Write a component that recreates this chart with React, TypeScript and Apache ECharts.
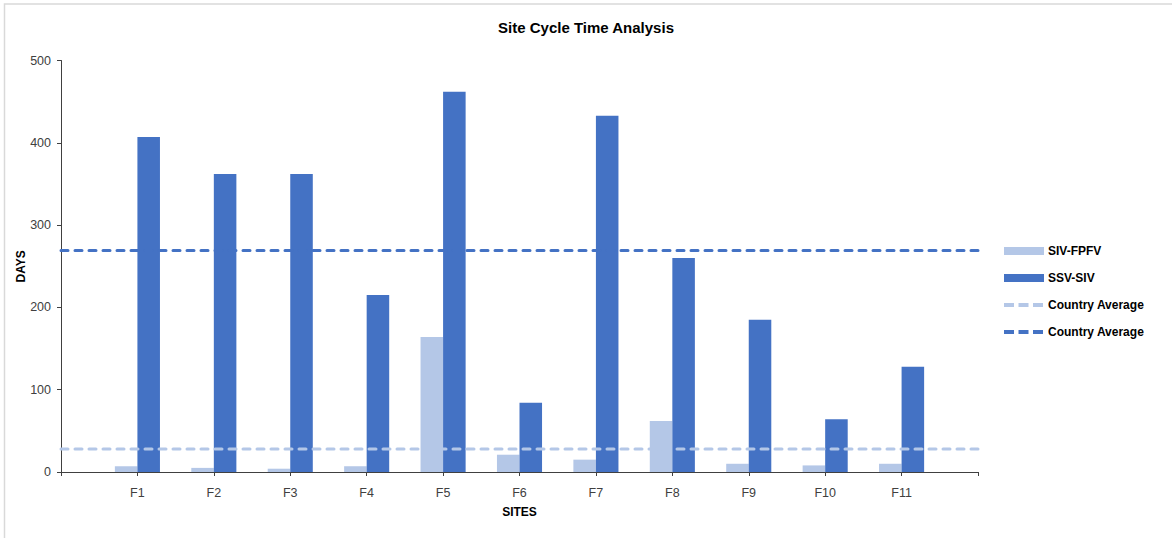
import React, { useEffect, useRef } from "react";
import * as echarts from "echarts";

const categories = ["", "F1", "F2", "F3", "F4", "F5", "F6", "F7", "F8", "F9", "F10", "F11", ""];
const sivFpfv = [null, 7, 5, 4, 7, 164, 21, 15, 62, 10, 8, 10, null];
const ssvSiv = [null, 407, 362, 362, 215, 462, 84, 433, 260, 185, 64, 128, null];
const avgSivFpfv = 28;
const avgSsvSiv = 269;
const yTicks = { min: 0, max: 500, interval: 100 };

const FONT = "'Liberation Sans', Arial, sans-serif";
const LIGHT = "#B4C7E7";
const DARK = "#4472C4";

export default function App() {
  const ref = useRef<HTMLDivElement>(null);
  useEffect(() => {
    document.body.style.margin = "0";
    const chart = echarts.init(ref.current!, null, { renderer: "svg" });
    chart.setOption({
      animation: false,
      backgroundColor: "#fff",
      textStyle: { fontFamily: FONT },
      title: {
        text: "Site Cycle Time Analysis",
        left: "center",
        top: 15,
        textStyle: { fontFamily: FONT, fontSize: 15, fontWeight: "bold", color: "#000" },
      },
      graphic: [
        {
          type: "rect",
          shape: { x: 4.5, y: 4, width: 1200, height: 600 },
          style: { fill: "none", stroke: "#d9d9d9", lineWidth: 1.5 },
          silent: true,
        },
      ],
      grid: { left: 61, right: 194, top: 60.5, bottom: 66, containLabel: false },
      legend: {
        orient: "vertical",
        left: 1002,
        top: 245,
        padding: 0,
        itemWidth: 40,
        itemHeight: 8,
        itemGap: 15,
        textStyle: { fontFamily: FONT, fontSize: 12, fontWeight: "bold", color: "#000", padding: [0, 0, 0, -1] },
        data: [
          { name: "SIV-FPFV", icon: "rect" },
          { name: "SSV-SIV", icon: "rect" },
          { name: "Country Average", itemStyle: { opacity: 0 }, lineStyle: { width: 4, type: [10, 4.5], cap: "butt" } },
          { name: "Country Average ", itemStyle: { opacity: 0 }, lineStyle: { width: 4, type: [10, 4.5], cap: "butt" } },
        ],
      },
      xAxis: {
        type: "category",
        data: categories,
        boundaryGap: false,
        name: "SITES",
        nameLocation: "middle",
        nameGap: 34,
        nameTextStyle: { fontFamily: FONT, fontSize: 12, fontWeight: "bold", color: "#000" },
        axisLine: { lineStyle: { color: "#404040", width: 1 } },
        axisTick: { show: true, alignWithLabel: true, length: 4, lineStyle: { color: "#404040" } },
        axisLabel: { fontFamily: FONT, fontSize: 12.5, color: "#404040", margin: 14, interval: 0 },
        splitLine: { show: false },
      },
      yAxis: {
        type: "value",
        min: yTicks.min,
        max: yTicks.max,
        interval: yTicks.interval,
        name: "DAYS",
        nameLocation: "middle",
        nameGap: 34,
        nameRotate: 90,
        nameMoveOverlap: false,
        nameTextStyle: { fontFamily: FONT, fontSize: 12, fontWeight: "bold", color: "#000" },
        axisLine: { show: true, lineStyle: { color: "#404040", width: 1 } },
        axisTick: { show: true, length: 4, inside: false, lineStyle: { color: "#404040" } },
        axisLabel: { fontFamily: FONT, fontSize: 12.5, color: "#404040", margin: 10 },
        splitLine: { show: false },
      },
      series: [
        {
          name: "SIV-FPFV",
          type: "bar",
          data: sivFpfv,
          itemStyle: { color: LIGHT },
          barGap: "0%",
          barCategoryGap: "41%",
        },
        {
          name: "SSV-SIV",
          type: "bar",
          data: ssvSiv,
          itemStyle: { color: DARK },
          barGap: "0%",
          barCategoryGap: "41%",
        },
        {
          name: "Country Average",
          type: "line",
          data: categories.map(() => avgSivFpfv),
          symbol: "none",
          itemStyle: { color: LIGHT },
          lineStyle: { color: LIGHT, width: 3, type: [7, 7], cap: "round" },
          z: 5,
        },
        {
          name: "Country Average ",
          type: "line",
          data: categories.map(() => avgSsvSiv),
          symbol: "none",
          itemStyle: { color: DARK },
          lineStyle: { color: DARK, width: 3, type: [7, 7], cap: "round" },
          z: 5,
        },
      ],
    });
    return () => chart.dispose();
  }, []);
  return <div ref={ref} style={{ width: 1172, height: 538 }} />;
}
